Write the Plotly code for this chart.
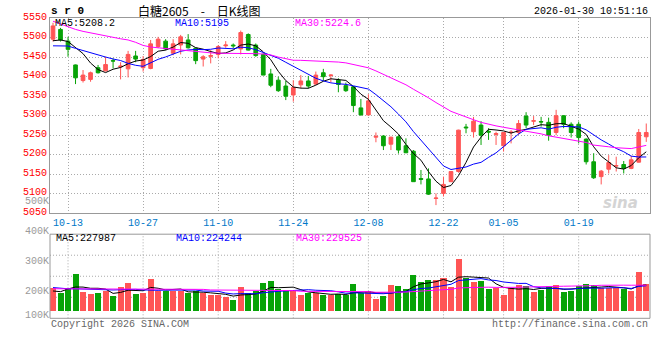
import plotly.graph_objects as go

# ---------------- data ----------------
dates = [
    "2025-10-09", "2025-10-10", "2025-10-13", "2025-10-14", "2025-10-15", "2025-10-16", "2025-10-17",
    "2025-10-20", "2025-10-21", "2025-10-22", "2025-10-23", "2025-10-24", "2025-10-27", "2025-10-28",
    "2025-10-29", "2025-10-30", "2025-10-31",
    "2025-11-03", "2025-11-04", "2025-11-05", "2025-11-06", "2025-11-07", "2025-11-10", "2025-11-11",
    "2025-11-12", "2025-11-13", "2025-11-14", "2025-11-17", "2025-11-18", "2025-11-19", "2025-11-20",
    "2025-11-21", "2025-11-24", "2025-11-25", "2025-11-26", "2025-11-27", "2025-11-28",
    "2025-12-01", "2025-12-02", "2025-12-03", "2025-12-04", "2025-12-05", "2025-12-08", "2025-12-09",
    "2025-12-10", "2025-12-11", "2025-12-12", "2025-12-15", "2025-12-16", "2025-12-17", "2025-12-18",
    "2025-12-19", "2025-12-22", "2025-12-23", "2025-12-24", "2025-12-25", "2025-12-26", "2025-12-29",
    "2025-12-30", "2025-12-31",
    "2026-01-05", "2026-01-06", "2026-01-07", "2026-01-08", "2026-01-09", "2026-01-12", "2026-01-13",
    "2026-01-14", "2026-01-15", "2026-01-16", "2026-01-19", "2026-01-20", "2026-01-21", "2026-01-22",
    "2026-01-23", "2026-01-26", "2026-01-27", "2026-01-28", "2026-01-29", "2026-01-30",
]

opens = [5496, 5521, 5491, 5430, 5390, 5393, 5423, 5415, 5441, 5425,
         5420, 5453, 5423, 5421, 5477, 5491, 5460, 5481, 5494, 5473,
         5445, 5452, 5457, 5479, 5481, 5471, 5508, 5481, 5457, 5407,
         5391, 5376, 5353, 5379, 5389, 5381, 5410, 5403, 5391, 5377,
         5374, 5320, 5302, 5245, 5248, 5227, 5246, 5223, 5209, 5139,
         5138, 5088, 5101, 5131, 5157, 5271, 5259, 5276, 5260, 5252,
         5223, 5257, 5257, 5299, 5286, 5285, 5283, 5257, 5300, 5278,
         5278, 5240, 5182, 5144, 5163, 5171, 5175, 5165, 5181, 5246]
highs = [5538, 5525, 5502, 5431, 5417, 5413, 5430, 5451, 5447, 5437,
         5466, 5466, 5453, 5494, 5502, 5496, 5496, 5507, 5509, 5474,
         5455, 5468, 5481, 5491, 5485, 5518, 5511, 5485, 5460, 5420,
         5400, 5389, 5391, 5404, 5402, 5413, 5420, 5406, 5396, 5385,
         5376, 5343, 5355, 5257, 5250, 5246, 5250, 5242, 5212, 5161,
         5165, 5101, 5144, 5158, 5264, 5279, 5297, 5286, 5268, 5259,
         5258, 5263, 5289, 5309, 5299, 5297, 5295, 5315, 5301, 5283,
         5285, 5242, 5204, 5161, 5199, 5195, 5184, 5197, 5266, 5280]
lows = [5490, 5490, 5451, 5381, 5385, 5387, 5408, 5413, 5421, 5393,
        5398, 5437, 5413, 5419, 5473, 5468, 5455, 5457, 5472, 5432,
        5426, 5434, 5447, 5474, 5473, 5457, 5467, 5451, 5404, 5373,
        5361, 5340, 5336, 5370, 5370, 5379, 5389, 5385, 5360, 5361,
        5309, 5300, 5300, 5232, 5212, 5212, 5203, 5205, 5131, 5124,
        5097, 5071, 5093, 5130, 5154, 5255, 5244, 5225, 5238, 5225,
        5208, 5229, 5251, 5268, 5276, 5272, 5236, 5250, 5268, 5244,
        5229, 5175, 5138, 5124, 5152, 5157, 5152, 5163, 5180, 5233]
closes = [5530, 5494, 5470, 5397, 5404, 5410, 5410, 5431, 5440, 5427,
          5457, 5445, 5444, 5484, 5496, 5471, 5484, 5502, 5474, 5441,
          5451, 5454, 5477, 5481, 5479, 5513, 5468, 5454, 5404, 5378,
          5364, 5350, 5372, 5389, 5376, 5404, 5400, 5404, 5380, 5364,
          5326, 5302, 5338, 5247, 5223, 5245, 5212, 5205, 5131, 5137,
          5099, 5089, 5124, 5157, 5263, 5269, 5286, 5250, 5258, 5254,
          5257, 5258, 5280, 5276, 5287, 5284, 5250, 5300, 5278, 5257,
          5244, 5182, 5141, 5158, 5180, 5172, 5165, 5187, 5257, 5257]
volumes = [221000, 204000, 223000, 267400, 207700, 201000, 204000, 210000, 195500, 224000,
           237500, 201000, 204000, 251000, 210000, 210000, 210000, 210000, 204000, 210000,
           204000, 199000, 199000, 191100, 180100, 223200, 204400, 209900, 237600, 243100,
           217700, 213200, 209900, 196600, 204400, 204400, 198900, 198900, 201100, 196600,
           233100, 204400, 209900, 184500, 193300, 229800, 226500, 216500, 263000, 239800,
           246400, 246400, 254100, 223200, 317200, 254100, 239800, 243100, 218800, 221000,
           196600, 221000, 232000, 226500, 206600, 215500, 226500, 229800, 206600, 212100,
           226500, 234200, 229800, 221000, 221000, 221000, 218800, 209900, 274000, 234200]

# moving-average values at the left edge (need history before the window)
ma5_head = [5492, 5494, 5490, 5474]
ma10_head = [5479, 5479, 5478.5, 5472.5, 5466.5, 5460.6, 5455.4, 5450.3, 5445.2]
ma30_head = [5542, 5535, 5527, 5521, 5516, 5512, 5508, 5504, 5501, 5497,
             5494, 5488, 5480, 5476, 5474, 5472, 5470, 5468, 5466, 5464,
             5462, 5461, 5460, 5460, 5460, 5460, 5460, 5459, 5458]
vma5_head = [211600, 209400, 218200, 224900]
vma10_head = [223000, 220000, 219000, 219000, 218000, 218000, 217000, 217000, 215000]
vma30_head = [219000, 219000, 219000, 218000, 218000, 218000, 218000, 218000, 218000, 218000,
              218000, 218000, 218000, 217000, 217000, 217000, 217000, 217000, 217000, 217000,
              217000, 215000, 215000, 215000, 215000, 214000, 214000, 214000, 214000]

price_ma_values = ["5208.2", "5195", "5224.6"]
volume_ma_values = ["227987", "224244", "229525"]

tick_dates = ["2025-10-13", "2025-10-27", "2025-11-10", "2025-11-24",
              "2025-12-08", "2025-12-22", "2026-01-05", "2026-01-19"]
tick_labels = ["10-13", "10-27", "11-10", "11-24", "12-08", "12-22", "01-05", "01-19"]
price_ticks = [5050, 5100, 5150, 5200, 5250, 5300, 5350, 5400, 5450, 5500, 5550]
vol_ticks = [100000, 200000, 300000, 400000, 500000]
vol_tick_labels = ["100K", "200K", "300K", "400K", "500K"]


def rolling(vals, n, head):
    out = list(head)
    for i in range(len(head), len(vals)):
        out.append(sum(vals[i - n + 1:i + 1]) / n)
    return out


ma5 = rolling(closes, 5, ma5_head)
ma10 = rolling(closes, 10, ma10_head)
ma30 = rolling(closes, 30, ma30_head)
vma5 = rolling(volumes, 5, vma5_head)
vma10 = rolling(volumes, 10, vma10_head)
vma30 = rolling(volumes, 30, vma30_head)

# ---------------- style ----------------
W, H = 660, 360
RED = "#ff5555"
GREEN = "#07a307"
GRID = "#aaaaaa"
BORDER = "#999999"
MONO = "Liberation Mono, DejaVu Sans Mono, monospace"
CJK = "Noto Sans CJK SC, sans-serif"
DOT = "1px,2px"


def py(px):
    return 1 - px / H


def pxx(px):  # horizontal px -> paper (plot area spans 50..650)
    return (px - 50) / 600


PRICE_TOP, PRICE_BOT = 18.1, 213.3
VOL_TOP, VOL_BOT = 234.2, 318.3          # volume panel borders (400K at top border)
VOL_AXIS = [121061, 510000]              # volume axis range, extends above panel for the 500K label
VOL_AXIS_TOP_PX = 201.04
VOL_FLOOR = 146000                        # bars are drawn up from the panel floor

bar_colors = [RED if c >= o else GREEN for o, c in zip(opens, closes)]

fig = go.Figure()

fig.add_trace(go.Candlestick(
    x=dates, open=opens, high=highs, low=lows, close=closes,
    increasing=dict(line=dict(color=RED, width=1), fillcolor=RED),
    decreasing=dict(line=dict(color=GREEN, width=1), fillcolor=GREEN),
    whiskerwidth=0, showlegend=False, xaxis="x", yaxis="y", name="白糖2605",
))
for vals, col, nm in [(ma5, "#000000", "MA5"), (ma10, "#0000ff", "MA10"), (ma30, "#ff00ff", "MA30")]:
    fig.add_trace(go.Scatter(x=dates, y=vals, mode="lines", line=dict(color=col, width=1),
                             showlegend=False, name=nm, xaxis="x", yaxis="y", hoverinfo="skip"))

fig.add_trace(go.Bar(
    x=dates, y=[v - VOL_FLOOR for v in volumes], base=VOL_FLOOR,
    customdata=volumes, hovertemplate="%{x}<br>%{customdata}<extra></extra>",
    marker=dict(color=bar_colors, line=dict(width=0)), width=0.8,
    showlegend=False, xaxis="x2", yaxis="y2", name="成交量",
))
for vals, col, nm in [(vma5, "#000000", "MA5"), (vma10, "#0000ff", "MA10"), (vma30, "#ff00ff", "MA30")]:
    fig.add_trace(go.Scatter(x=dates, y=vals, mode="lines", line=dict(color=col, width=1),
                             showlegend=False, name=nm, xaxis="x2", yaxis="y2", hoverinfo="skip"))

xrange = [-0.4, 79.5]
vol_tickvals = [max(v, VOL_AXIS[0] + 300) for v in vol_ticks]

fig.update_layout(
    width=W, height=H,
    margin=dict(l=50, r=10, t=0, b=0, autoexpand=False),
    paper_bgcolor="white", plot_bgcolor="rgba(0,0,0,0)",
    showlegend=False, bargap=0,
    xaxis=dict(type="category", range=xrange, domain=[0, 1], anchor="y",
               tickvals=tick_dates, ticktext=tick_labels, ticks="",
               tickfont=dict(family=MONO, size=10, color="#0078c8"),
               showgrid=True, gridcolor=GRID, griddash=DOT, gridwidth=1,
               showline=True, mirror=True, linecolor=BORDER, linewidth=1,
               zeroline=False, rangeslider=dict(visible=False), fixedrange=True),
    yaxis=dict(domain=[py(PRICE_BOT), py(PRICE_TOP)], range=[5050, 5550], anchor="x",
               tickvals=price_ticks, ticks="", ticklabelshift=-2,
               tickfont=dict(family=MONO, size=10, color="#ff0000"),
               showgrid=True, gridcolor=GRID, griddash=DOT, gridwidth=1,
               showline=True, mirror=True, linecolor=BORDER, linewidth=1,
               zeroline=False, fixedrange=True),
    xaxis2=dict(type="category", range=xrange, domain=[0, 1], anchor="y2",
                showticklabels=False, ticks="", showgrid=False, showline=False,
                zeroline=False, fixedrange=True),
    yaxis2=dict(domain=[py(VOL_BOT), py(VOL_AXIS_TOP_PX)], range=VOL_AXIS, anchor="x2",
                tickvals=vol_tickvals, ticktext=vol_tick_labels, ticks="", ticklabelshift=-4,
                tickfont=dict(family=MONO, size=10, color="#9a9a9a"),
                showgrid=False, showline=False, zeroline=False, fixedrange=True),
)

shapes = []
# volume panel border
shapes.append(dict(type="rect", xref="x2 domain", x0=0, x1=1, yref="paper",
                   y0=py(VOL_BOT), y1=py(VOL_TOP), line=dict(color=BORDER, width=1), layer="above"))
# volume horizontal grid (panel split into quarters)
for k in (1, 2, 3):
    yy = py(VOL_TOP + k * (VOL_BOT - VOL_TOP) / 4)
    shapes.append(dict(type="line", xref="x2 domain", x0=0, x1=1, yref="paper", y0=yy, y1=yy,
                       line=dict(color=GRID, width=1, dash=DOT), layer="below"))
# volume vertical grid at the date ticks
for d in tick_dates:
    shapes.append(dict(type="line", xref="x2", x0=d, x1=d, yref="paper",
                       y0=py(VOL_BOT), y1=py(VOL_TOP),
                       line=dict(color=GRID, width=1, dash=DOT), layer="below"))
fig.update_layout(shapes=shapes)

ann = []
ann.append(dict(text="<b>s r 0</b>", x=pxx(49), y=py(11), xref="paper", yref="paper",
                xanchor="left", yanchor="middle", showarrow=False,
                font=dict(family=MONO, size=11, color="#000")))
ann.append(dict(text="白糖2605\u2003-\u2003日K线图", x=pxx(199), y=py(10), xref="paper", yref="paper",
                xanchor="center", yanchor="middle", showarrow=False,
                font=dict(family=CJK, size=12, color="#000")))
ann.append(dict(text="2026-01-30 10:51:16", x=pxx(650), y=py(11), xref="paper", yref="paper",
                xanchor="right", yanchor="middle", showarrow=False,
                font=dict(family=MONO, size=10, color="#000")))
ma_cols = ["#000000", "#0000ff", "#ff00ff"]
ma_names = ["MA5", "MA10", "MA30"]
ma_x = [53, 173, 293]
for nm, val, col, xx in zip(ma_names, price_ma_values, ma_cols, ma_x):
    ann.append(dict(text=f"{nm}:{val}", x=pxx(xx), y=py(23.5), xref="paper", yref="paper",
                    xanchor="left", yanchor="middle", showarrow=False,
                    font=dict(family=MONO, size=10, color=col)))
for nm, val, col, xx in zip(ma_names, volume_ma_values, ma_cols, ma_x):
    ann.append(dict(text=f"{nm}:{val}", x=pxx(xx + 0.5), y=py(238.5), xref="paper", yref="paper",
                    xanchor="left", yanchor="middle", showarrow=False,
                    font=dict(family=MONO, size=10, color=col)))
ann.append(dict(text="Copyright 2026 SINA.COM", x=pxx(49), y=py(324), xref="paper", yref="paper",
                xanchor="left", yanchor="middle", showarrow=False,
                font=dict(family=MONO, size=10, color="#666666")))
ann.append(dict(text="http://finance.sina.com.cn", x=pxx(650), y=py(324), xref="paper", yref="paper",
                xanchor="right", yanchor="middle", showarrow=False,
                font=dict(family=MONO, size=10, color="#666666")))
ann.append(dict(text="<b><i>sina</i></b>", x=pxx(620), y=py(203), xref="paper", yref="paper",
                xanchor="center", yanchor="middle", showarrow=False,
                font=dict(family="DejaVu Sans, sans-serif", size=15, color="#d4d4d4")))
fig.update_layout(annotations=ann)

fig.write_html("out.html", config={"displayModeBar": False},
               post_script="document.body.style.margin='0';")
